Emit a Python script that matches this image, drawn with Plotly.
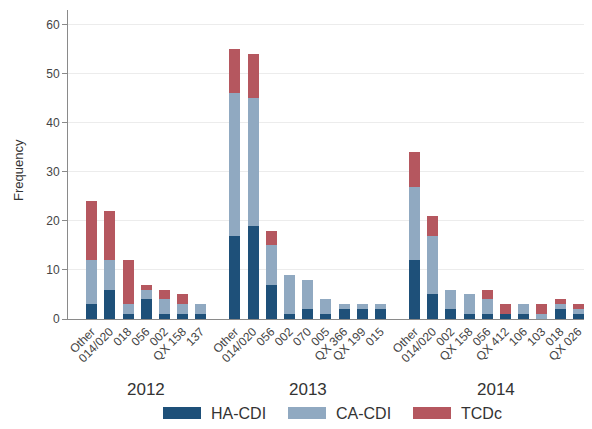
import plotly.graph_objects as go

years = ["2012", "2013", "2014"]
cats_2012 = ["Other", "014/020", "018", "056", "002", "QX 158", "137"]
ha_2012 = [3, 6, 1, 4, 1, 1, 1]
ca_2012 = [9, 6, 2, 2, 3, 2, 2]
tc_2012 = [12, 10, 9, 1, 2, 2, 0]

cats_2013 = ["Other", "014/020", "056", "002", "070", "005", "QX 366", "QX 199", "015"]
ha_2013 = [17, 19, 7, 1, 2, 1, 2, 2, 2]
ca_2013 = [29, 26, 8, 8, 6, 3, 1, 1, 1]
tc_2013 = [9, 9, 3, 0, 0, 0, 0, 0, 0]

cats_2014 = ["Other", "014/020", "002", "QX 158", "056", "QX 412", "106", "103", "018", "QX 026"]
ha_2014 = [12, 5, 2, 1, 1, 1, 1, 0, 2, 1]
ca_2014 = [15, 12, 4, 4, 3, 0, 2, 1, 1, 1]
tc_2014 = [7, 4, 0, 0, 2, 2, 0, 2, 1, 1]

series_names = ["HA-CDI", "CA-CDI", "TCDc"]
colors = ["#1e5079", "#90a9c1", "#b5575f"]

groups = [
    (cats_2012, ha_2012, ca_2012, tc_2012),
    (cats_2013, ha_2013, ca_2013, tc_2013),
    (cats_2014, ha_2014, ca_2014, tc_2014),
]

GAP = 1.87
xs, labels, centers = [], [], []
vals = [[], [], []]
start = 0.0
for cats, ha, ca, tc in groups:
    pos = [start + i for i in range(len(cats))]
    xs += pos
    labels += cats
    centers.append((pos[0] + pos[-1]) / 2)
    for k, s in enumerate((ha, ca, tc)):
        vals[k] += s
    start = pos[-1] + GAP

fig = go.Figure()
for k in range(3):
    fig.add_trace(go.Bar(
        x=xs, y=vals[k], name=series_names[k], width=0.6,
        marker=dict(color=colors[k], line=dict(width=0)),
        showlegend=False,
    ))

# page body has an 8px margin; figure coordinates are offset accordingly
W, H = 576, 413
L, T, B = 60, 2, 102
PW = W - L
PH = H - T - B

def px(xr):
    return (xr - 8 - L) / PW

def py(yr):
    return (H - B - (yr - 8)) / PH

font_family = "Liberation Sans, Arial, sans-serif"
annotations = []
for yr, c in zip(years, centers):
    annotations.append(dict(x=c, y=py(389), xref="x", yref="paper", text=yr,
                            showarrow=False, font=dict(size=17, color="#333333"),
                            xanchor="center", yanchor="middle"))

annotations.append(dict(x=px(18), y=py(170), xref="paper", yref="paper", text="Frequency",
                        textangle=-90, showarrow=False, xanchor="center", yanchor="middle",
                        font=dict(size=13, color="#333333")))

# custom legend with wide swatches
shapes = []
leg_x = [163, 288, 413]
for k in range(3):
    shapes.append(dict(type="rect", xref="paper", yref="paper",
                       x0=px(leg_x[k]), x1=px(leg_x[k] + 38),
                       y0=py(419), y1=py(407),
                       fillcolor=colors[k], line=dict(width=0)))
    annotations.append(dict(x=px(leg_x[k] + 46), y=py(413), xref="paper", yref="paper",
                            text=series_names[k], showarrow=False, xanchor="left", yanchor="middle",
                            font=dict(size=16, color="#333333")))

fig.update_layout(
    barmode="stack",
    width=W, height=H,
    margin=dict(l=L, r=0, t=T, b=B),
    paper_bgcolor="white", plot_bgcolor="white",
    font=dict(family=font_family, color="#444444"),
    annotations=annotations,
    shapes=shapes,
    xaxis=dict(
        range=[-1.3, -1.3 + PW / 18.2],
        tickmode="array", tickvals=xs, ticktext=labels,
        tickangle=-45, tickfont=dict(size=12, color="#444444"),
        ticklabeloverflow="allow",
        showgrid=False, showline=True, linecolor="#8a8a8a", linewidth=1,
        ticks="", zeroline=False, automargin=False,
    ),
    yaxis=dict(
        range=[0, 63], tickvals=[0, 10, 20, 30, 40, 50, 60],
        tickfont=dict(size=12, color="#444444"),
        showgrid=True, gridcolor="#ececec", gridwidth=1,
        showline=True, linecolor="#8a8a8a", linewidth=1,
        ticks="outside", ticklen=5, tickcolor="#8a8a8a",
        zeroline=False, automargin=False,
    ),
)

fig.write_html("out.html")
